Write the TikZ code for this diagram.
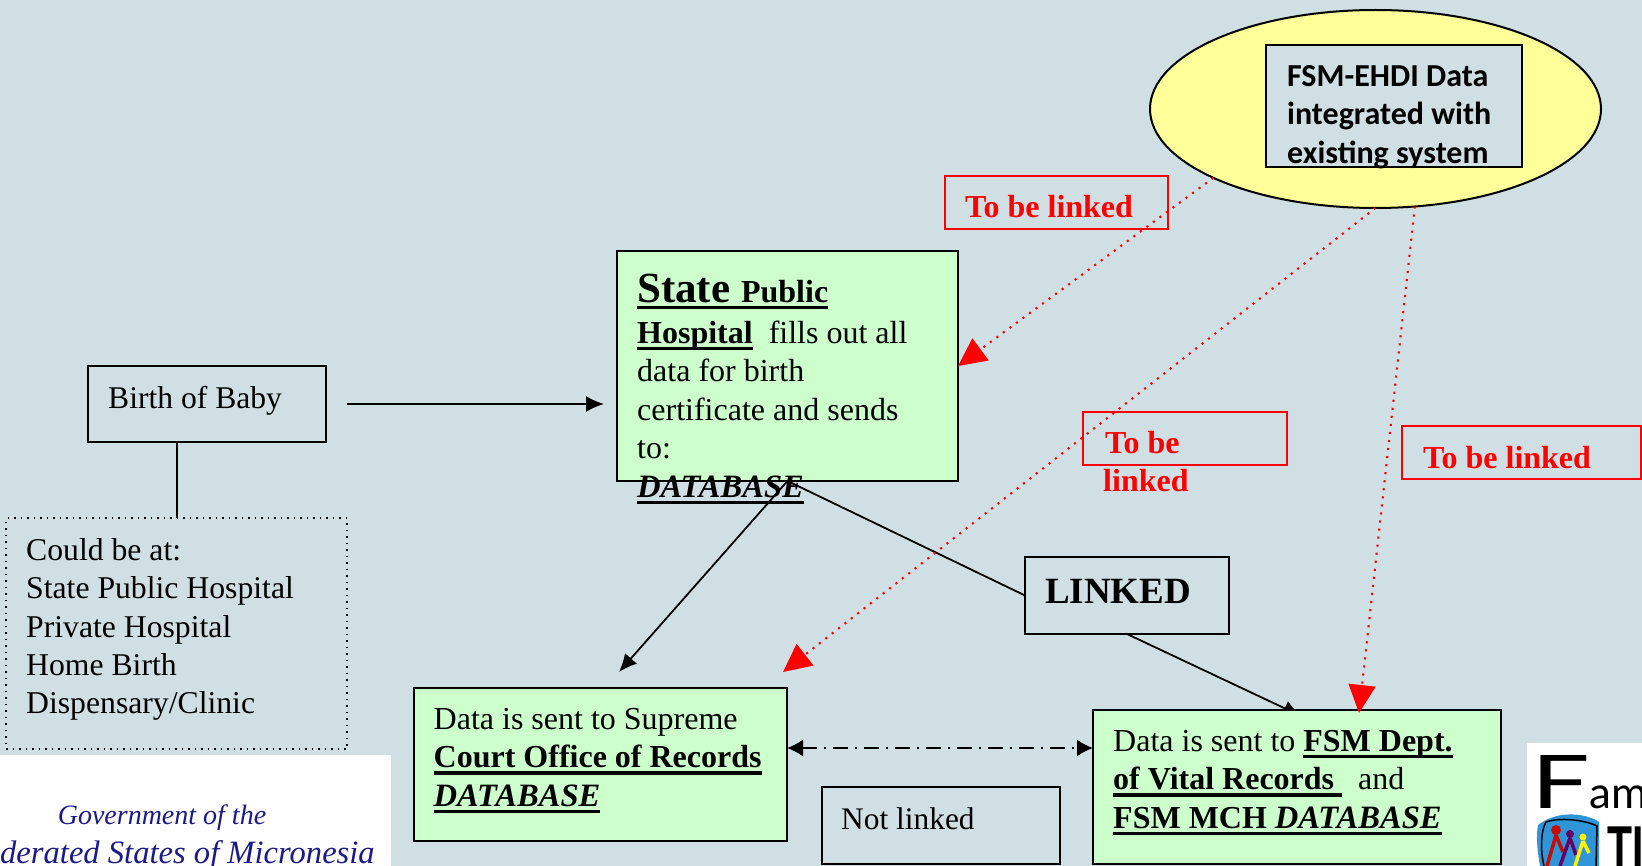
\documentclass[tikz,border=0pt]{standalone}
\usepackage{fontspec}
\setmainfont{Liberation Serif}
\newfontfamily\carlito{Carlito}
\newfontfamily\logofont{Lato}
\newfontfamily\heros{Liberation Sans}
\usetikzlibrary{shapes.geometric,arrows.meta}

\definecolor{slidebg}{HTML}{D0DFE3}
\definecolor{boxgreen}{HTML}{CCFFCC}
\definecolor{hubyellow}{HTML}{FFFF99}
\definecolor{govblue}{HTML}{1A1A8C}

\newcommand\undl[1]{\leavevmode\setbox0=\hbox{#1}\rlap{\raisebox{-7pt}{\rule{\wd0}{3.5pt}}}\box0}
\newcommand\firstln{\rule{0pt}{30pt}}
\newcommand\dbase{\bfseries\itshape\fontsize{32.6}{38.4}\selectfont DATABASE}

\begin{document}
\begin{tikzpicture}
  [
    x=1pt, y=-1pt,
    line join=miter,
    plainbox/.style={draw=black, line width=2pt, inner sep=0pt, outer sep=0pt, anchor=north west},
    greenbox/.style={plainbox, fill=boxgreen},
    redbox/.style={draw=red, line width=1.8pt, inner sep=0pt, outer sep=0pt, anchor=north west},
    bodytext/.style={inner sep=0pt, anchor=north west, align=left,
      font=\fontsize{32}{38.4}\selectfont},
    redtext/.style={bodytext, text=red, font=\fontsize{32}{38}\selectfont\bfseries},
    arrow/.style={black, line width=1.8pt, -{Latex[length=18pt,width=16pt]}},
    reddots/.style={red, line width=2.1pt, dash pattern=on 2.1pt off 6pt,
      -{Triangle[length=28pt,width=27pt,fill=red]}},
  ]

\fill[slidebg] (0,0) rectangle (1642,866);
\useasboundingbox (0,0) rectangle (1642,866);
\clip (0,0) rectangle (1642,866);

% logos
\fill[white] (0,755) rectangle (391,866);
\fill[white] (1527,743) rectangle (1642,866);
\node[anchor=base, inner sep=0pt, text=govblue, font=\fontsize{28}{30}\selectfont\itshape] (govtop) at (162,824) {Government of the};
\node[anchor=base west, inner sep=0pt, text=govblue, font=\fontsize{32.6}{34}\selectfont\itshape] (govname) at (0,863) {derated States of Micronesia};
\node[anchor=base west, inner sep=0pt, font=\logofont] (famword) at (1531,808)
  {\fontsize{74}{74}\selectfont\scalebox{1.4}[1]{F}\fontsize{44}{44}\selectfont am};
\fill[cyan!70!blue!85!white] (1538,825) .. controls (1560,808) and (1590,815) .. (1599,822) -- (1599,866) -- (1540,866) .. controls (1537,850) and (1536,835) .. (1538,825);
\draw[line width=1.5pt] (1544,866) .. controls (1540,850) and (1541,830) .. (1546,822) .. controls (1560,817) and (1585,820) .. (1597,826) -- (1596,866);
\fill[red!75!black!90!orange] (1556,830) circle (5pt);
\draw[red!75!black!90!orange, line width=3.5pt] (1556,835) -- (1547,866) (1556,835) -- (1563,852);
\fill[violet!80!black] (1570,834) circle (4pt);
\draw[violet!80!black, line width=3.5pt] (1570,838) -- (1560,866) (1570,838) -- (1576,855);
\fill[yellow] (1583,837) circle (3.5pt);
\draw[yellow, line width=3.5pt] (1583,841) -- (1575,866) (1583,841) -- (1589,853);
\node[anchor=base west, inner sep=0pt, font=\heros\bfseries\fontsize{62}{62}\selectfont, xscale=.66, transform shape] (famT) at (1607,869) {TI};

% birth of baby
\node[plainbox, minimum width=238pt, minimum height=76pt] (birth) at (88,366) {};
\node[bodytext, anchor=base west, font=\fontsize{31.6}{38.4}\selectfont] (birthtxt) at (108,409) {Birth of Baby};
\node[draw=black, line width=1.5pt, dash pattern=on 1.5pt off 5pt, inner sep=0pt, outer sep=0pt, anchor=north west,
  minimum width=341pt, minimum height=231pt] (places) at (6,518) {};
\node[bodytext, font=\fontsize{31.7}{38.2}\selectfont] (placestxt) at (26,530.4) {\firstln Could be at:\\State Public Hospital\\Private Hospital\\Home Birth\\Dispensary/Clinic};
\draw[line width=2pt] (birth.south -| places.north) -- (places.north);

% state hospital
\node[greenbox, minimum width=341pt, minimum height=230pt] (state) at (617,251) {};
\node[bodytext] (statetxt) at (637,272) {\firstln\undl{\bfseries\fontsize{43}{42}\selectfont State \fontsize{32}{38}\selectfont Public}\\[2.6pt]
  \undl{\bfseries Hospital}\ \ fills out all\\data for birth\\[.5pt]certificate and sends\\to:\\
  \undl{\dbase}};
\draw[arrow, shorten <=21pt, shorten >=13pt] (birth.east) -- (state.west |- birth.east);

% linked
\coordinate (tipA) at (619,672);
\coordinate (tipB) at (783,672);
\coordinate (tipC) at (1301,716);
\coordinate (tipD) at (1359,713);
\coordinate (dashY) at (0,748);
\node[plainbox, minimum width=204pt, minimum height=77pt] (linked) at (1025,557) {};
\node[bodytext, anchor=base west, font=\fontsize{37}{40}\selectfont\bfseries] (linkedtxt) at (1045,603) {LINKED};
\draw[line width=1.8pt] (state.south) -- (linked.west);
\draw[arrow] (state.south) -- (tipA);
\draw[arrow] (linked.south) -- (tipC);

% receiving offices
\node[greenbox, minimum width=373pt, minimum height=153pt] (court) at (414,688) {};
\node[bodytext] (courttxt) at (433.5,699) {\firstln Data is sent to Supreme\\\undl{\bfseries Court Office of Records}\\\undl{\dbase}};
\node[greenbox, minimum width=408pt, minimum height=154pt] (fsm) at (1093,710) {};
\node[bodytext] (fsmtxt) at (1113,721) {\firstln Data is sent to \undl{\bfseries FSM Dept.}\\\undl{\bfseries of Vital Records\ }\ \ and\\\undl{\bfseries FSM MCH \dbase}};
\node[plainbox, minimum width=238pt, minimum height=77pt] (notlinked) at (822,787) {};
\node[bodytext, anchor=base west, font=\fontsize{31.4}{38.4}\selectfont] (notlinkedtxt) at (841,829) {Not linked};
\draw[black, line width=1.8pt, dash pattern=on 15pt off 7pt on 2pt off 7pt, {Latex[length=16pt,width=17pt]}-{Latex[length=16pt,width=17pt]}]
  (court.east |- dashY) -- (fsm.west |- dashY);

% data system
\node[ellipse, draw=black, line width=2pt, fill=hubyellow, inner sep=0pt, outer sep=0pt, minimum width=451pt, minimum height=198pt] (hub) at (1375.5,109) {};
\node[plainbox, fill=slidebg, minimum width=256pt, minimum height=122pt] (hubbox) at (1266,45) {};
\node[bodytext, font=\carlito\bfseries\fontsize{32}{38.6}\selectfont] (hubtxt) at (1287,56) {\firstln FSM-EHDI Data\\integrated with\\existing system};

% to be linked
\node[redbox, minimum width=223pt, minimum height=53pt] (linkA) at (945,176) {};
\node[redtext, anchor=base west] (linkAtxt) at (965,218) {To be linked};
\node[redbox, minimum width=204pt, minimum height=53pt] (linkB) at (1083,412) {};
\node[redtext] (linkBtxt) at (1103,423) {\firstln\hspace{2pt}To be\\linked};
\node[redbox, minimum width=239pt, minimum height=53pt] (linkC) at (1402,426) {};
\node[redtext, anchor=base west] (linkCtxt) at (1423,468) {To be linked};

\draw[reddots] (hub.203) -- (state.east);
\draw[reddots] (hub.270) -- (tipB);
\draw[reddots] (hub.292) -- (tipD);

\end{tikzpicture}
\end{document}
